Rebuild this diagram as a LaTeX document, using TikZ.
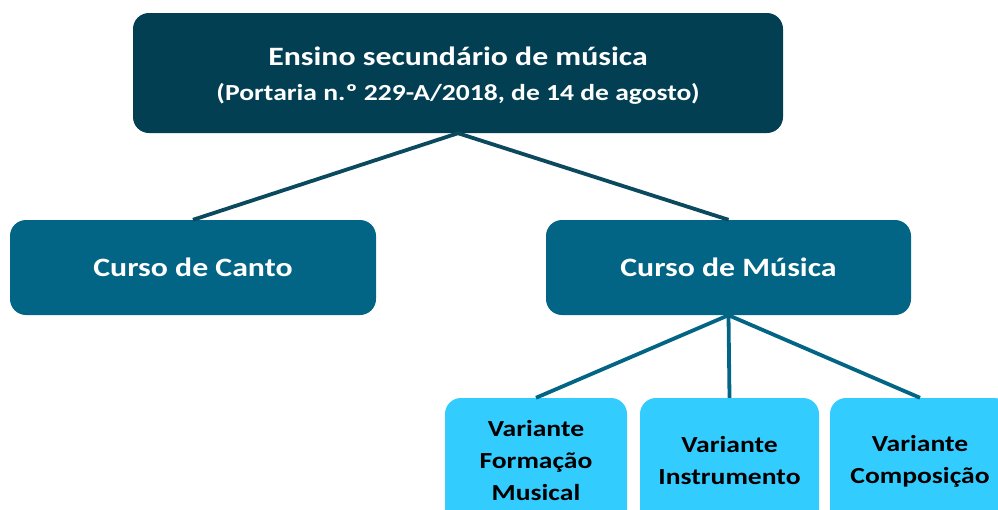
\documentclass[tikz,border=0pt]{standalone}
\usepackage{fontspec}
\setmainfont[FakeStretch=1.2]{Carlito}
\definecolor{topc}{HTML}{023F52}
\definecolor{midc}{HTML}{036585}
\definecolor{lowc}{HTML}{33CCFF}
\definecolor{linetop}{HTML}{0B4A5E}
\definecolor{linelow}{HTML}{036585}
\begin{document}
\begin{tikzpicture}[x=1pt,y=-1pt,
  box/.style={rounded corners=16pt, inner sep=0pt, align=center, font=\bfseries},
  vtext/.style={align=center, inner sep=0pt, font=\bfseries\fontsize{23}{32}\selectfont},
  conn/.style={line width=3.8pt}]
\useasboundingbox (0,0) rectangle (998,509);
\node[box, fill=topc, text=white, minimum width=650pt, minimum height=120pt] (top) at (458,73) {};
\node[align=center, inner sep=0pt, text=white, font=\bfseries\fontsize{26.5}{35}\selectfont] (ttop) at (458,76)
  {Ensino secundário de música\\{\fontsize{23}{35}\selectfont (Portaria n.º 229-A/2018, de 14 de agosto)}};
\node[box, fill=midc, text=white, minimum width=366pt, minimum height=95pt,
  font=\bfseries\fontsize{26.5}{30}\selectfont] (canto) at (193,267.5) {Curso de Canto};
\node[box, fill=midc, text=white, minimum width=365pt, minimum height=95pt,
  font=\bfseries\fontsize{26.5}{30}\selectfont] (musica) at (728.5,267.5) {Curso de Música};
\node[box, fill=lowc, minimum width=182pt, minimum height=132pt] (formacao) at (536,464) {};
\node[box, fill=lowc, minimum width=179pt, minimum height=132pt] (instr) at (729.5,464) {};
\node[box, fill=lowc, minimum width=180pt, minimum height=132pt] (comp) at (920,464) {};
\node[vtext] (tformacao) at (536,461) {Variante\\Formação\\Musical};
\node[vtext] (tinstr) at (729.5,461) {Variante\\Instrumento};
\node[vtext] (tcomp) at (920,461) {Variante\\Composição};
\draw[conn, linetop] (canto.north) -- (top.south) -- (musica.north);
\draw[conn, linelow] (musica.south) -- (formacao.north);
\draw[conn, linelow] (musica.south) -- (instr.north);
\draw[conn, linelow] (musica.south) -- (comp.north);
\end{tikzpicture}
\end{document}
